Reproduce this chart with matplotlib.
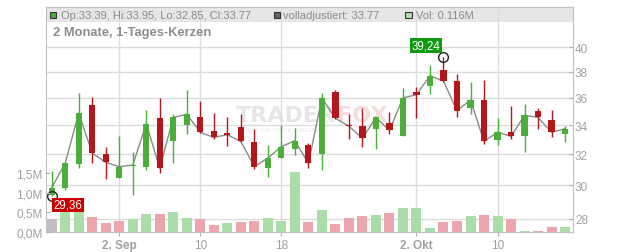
import numpy as np
import pandas as pd
import matplotlib.pyplot as plt
from matplotlib.patches import Rectangle
from matplotlib.ticker import NullLocator
from matplotlib.transforms import blended_transform_factory

plt.rcParams['font.family'] = ['Liberation Sans', 'DejaVu Sans']

# Tageskerzen 26.08. - 17.10.2024
dates = pd.bdate_range('2024-08-26', '2024-10-17')
opens = [29.40, 29.84, 31.37, 35.50, 32.02, 30.48, 31.26, 31.20, 34.50, 32.88,
         34.00, 34.57, 33.63, 33.49, 33.90, 32.86, 31.09, 31.78, 32.37, 32.65,
         32.00, 36.45, 34.05, 33.95, 33.77, 34.20, 33.28, 36.45, 36.93, 38.19,
         37.28, 35.28, 35.85, 32.95, 33.53, 33.23, 35.02, 34.35, 33.39]
highs = [30.93, 31.43, 36.38, 36.07, 32.51, 33.28, 32.14, 35.10, 36.00, 34.85,
         36.60, 35.80, 34.87, 34.57, 34.80, 33.72, 32.67, 34.05, 33.84, 32.75,
         36.40, 36.60, 34.80, 35.25, 34.60, 34.95, 36.75, 36.82, 38.53, 39.24,
         37.88, 37.20, 37.35, 34.50, 35.38, 35.55, 35.25, 35.10, 33.95]
lows = [29.36, 29.72, 31.09, 31.43, 30.43, 30.48, 29.40, 31.00, 30.80, 31.46,
        33.37, 33.45, 33.02, 32.60, 32.85, 31.04, 30.54, 31.78, 31.96, 31.13,
        31.00, 34.45, 33.02, 32.53, 32.40, 33.37, 33.28, 34.50, 36.33, 37.25,
        34.60, 34.80, 32.74, 32.65, 33.02, 32.19, 33.72, 33.16, 32.85]
closes = [29.86, 31.43, 34.88, 32.09, 31.48, 31.20, 31.30, 34.12, 31.09, 34.57,
          34.80, 33.51, 33.16, 33.35, 32.88, 31.20, 31.76, 32.53, 32.93, 31.41,
          36.00, 34.50, 33.95, 33.09, 34.57, 33.65, 36.00, 36.25, 37.70, 37.30,
          35.05, 35.85, 32.88, 33.53, 33.23, 34.72, 34.57, 33.51, 33.77]
# Volumen in Mio.
vols = [0.32, 0.62, 0.60, 0.37, 0.22, 0.27, 0.32, 0.45, 0.45, 0.50,
        0.35, 0.32, 0.17, 0.22, 0.245, 0.27, 0.35, 0.27, 1.51, 0.25,
        0.55, 0.19, 0.35, 0.40, 0.42, 0.47, 0.62, 0.60, 0.09, 0.245,
        0.27, 0.40, 0.42, 0.40, 0.32, 0.02, 0.02, 0.12, 0.116]

price_ticks = [28, 30, 32, 34, 36, 38, 40]
vol_ticks = [0.0, 0.5, 1.0, 1.5]
tick_days = ['2024-09-02', '2024-09-10', '2024-09-18', '2024-10-02', '2024-10-10']
monate = {8: 'Aug', 9: 'Sep', 10: 'Okt'}

GREEN = '#4aae38'
RED = '#b3161b'
GRID = '#dcdcdc'
TXT = '#8c8c8c'
LBL = '#a0a0a0'

x = np.arange(len(dates))
o = np.array(opens)
h = np.array(highs)
l = np.array(lows)
c = np.array(closes)

fig = plt.figure(figsize=(6.32, 2.53), dpi=100)
ax = fig.add_axes([45.5 / 632, 20 / 253, 527 / 632, 224.7 / 253])
axv = ax.twinx()

ax.set_yscale('log')
ax.set_ylim(27.23, 43.48)
ax.set_xlim(-0.46, 38.55)
axv.set_ylim(0, 5.69)
ax.set_autoscale_on(False)


def px(xp, yp):
    # Pixel im Bild -> Achsenkoordinaten
    return (xp - 45.5) / 527, (233 - yp) / 224.7


# Kopfzeile
ax.add_patch(Rectangle(px(45.5, 22.7), 1, 14.4 / 224.7, transform=ax.transAxes,
                       fc='#e6e6e6', ec='none', zorder=0.2))

# Volumen (Farbe nach Vortagesschluss)
vcol = ['#c0c0c0']
for i in range(1, len(c)):
    vcol.append('#aadda8' if c[i] >= c[i - 1] else '#eea6ae')
trans = blended_transform_factory(ax.transData, axv.transData)
ax.bar(x, vols, width=0.74, color=vcol, transform=trans, zorder=1)

# Schlusskurslinie + Kerzen
ax.plot(x, c, color='#8a8a8a', lw=1, zorder=2)
ccol = [GREEN if cc >= oo else RED for oo, cc in zip(o, c)]
ax.vlines(x, l, h, colors=ccol, lw=1, zorder=3)
ax.bar(x, np.abs(c - o), bottom=np.minimum(o, c), width=0.46, color=ccol, zorder=4)

# Hoch / Tief
imax = int(np.argmax(h))
imin = int(np.argmin(l))
ax.plot([imax, imin], [h[imax], l[imin]], 'o', ms=7, mfc='none', mec='#222222', mew=1, zorder=5)
ax.annotate(f'{h[imax]:.2f}'.replace('.', ','), xy=(imax, h[imax]), xytext=(-12.6, 7.9),
            textcoords='offset points', ha='center', va='center', color='white', fontsize=8.3,
            bbox=dict(boxstyle='square,pad=0.1', fc='#0f9a0f', ec='none'), zorder=6)
ax.annotate(f'{l[imin]:.2f}'.replace('.', ','), xy=(imin, l[imin]), xytext=(11.7, -6.5),
            textcoords='offset points', ha='center', va='center', color='white', fontsize=8.3,
            bbox=dict(boxstyle='square,pad=0.1', fc='#cc0000', ec='none'), zorder=6)

# Achsen
ax.set_axisbelow(True)
ax.yaxis.tick_right()
axv.yaxis.tick_left()
ax.set_yticks(price_ticks)
ax.set_yticklabels([str(t) for t in price_ticks])
ax.yaxis.set_minor_locator(NullLocator())
axv.set_yticks(vol_ticks)
axv.set_yticklabels([f'{v:.1f}M'.replace('.', ',') for v in vol_ticks])

tick_pos = [int(np.where(dates == pd.Timestamp(d))[0][0]) for d in tick_days]
tick_lbl = []
seen = set()
for d in tick_days:
    t = pd.Timestamp(d)
    if t.month not in seen:
        tick_lbl.append(f'{t.day}. {monate[t.month]}')
        seen.add(t.month)
    else:
        tick_lbl.append(str(t.day))
ax.set_xticks(tick_pos)
ax.set_xticklabels(tick_lbl)
for lab in ax.get_xticklabels():
    if '.' in lab.get_text():
        lab.set_fontweight('bold')

ax.grid(True, color=GRID, lw=1)
ax.tick_params(axis='y', which='both', direction='in', length=3, color='#b0b0b0',
               labelcolor=LBL, labelsize=8.5, pad=1.8)
axv.tick_params(axis='y', direction='in', length=3, color='#b0b0b0',
                labelcolor=LBL, labelsize=8.5, pad=2)
ax.tick_params(axis='x', direction='out', length=3, color='#b0b0b0',
               labelcolor=LBL, labelsize=8.5, pad=2)
for s in ax.spines.values():
    s.set_color('#c0c0c0')
for s in axv.spines.values():
    s.set_visible(False)

# Legende oben
for (sx, col) in [(50, GREEN), (274, '#666666'), (405.3, '#b4e0b0')]:
    ax.add_patch(Rectangle(px(sx, 18.8), 6.4 / 527, 6.2 / 224.7, transform=ax.transAxes,
                           fc=col, ec='#333333', lw=0.8, zorder=6, clip_on=False))
kopf = [(61, f'Op:{o[-1]:.2f}, Hi:{h[-1]:.2f}, Lo:{l[-1]:.2f}, Cl:{c[-1]:.2f}'),
        (283, f'volladjustiert: {c[-1]:.2f}'),
        (416.5, f'Vol: {vols[-1]:.3f}M')]
for kx, kt in kopf:
    ax.text(*px(kx, 15.8), kt, transform=ax.transAxes, fontsize=8, color=TXT,
            ha='left', va='center', zorder=6)
ax.text(*px(53, 33.5), '2 Monate, 1-Tages-Kerzen', transform=ax.transAxes, fontsize=9.3,
        fontweight='bold', color=TXT, ha='left', va='center', zorder=6)

# Wasserzeichen
ax.text(*px(336, 116), 'TRADER', transform=ax.transAxes, fontsize=16, fontweight='bold',
        color='#e6e6e6', ha='right', va='center', family='DejaVu Sans', zorder=0.4)
ax.text(*px(337, 116), 'FOX', transform=ax.transAxes, fontsize=16, fontweight='bold',
        color='#f6dcdc', ha='left', va='center', family='DejaVu Sans', zorder=0.4)
ax.text(*px(244, 130), 'REALTIME STOCK SCREENER', transform=ax.transAxes, fontsize=4,
        color='#e8e8e8', ha='left', va='center', zorder=0.4)

fig.savefig('out.png', dpi=100)
